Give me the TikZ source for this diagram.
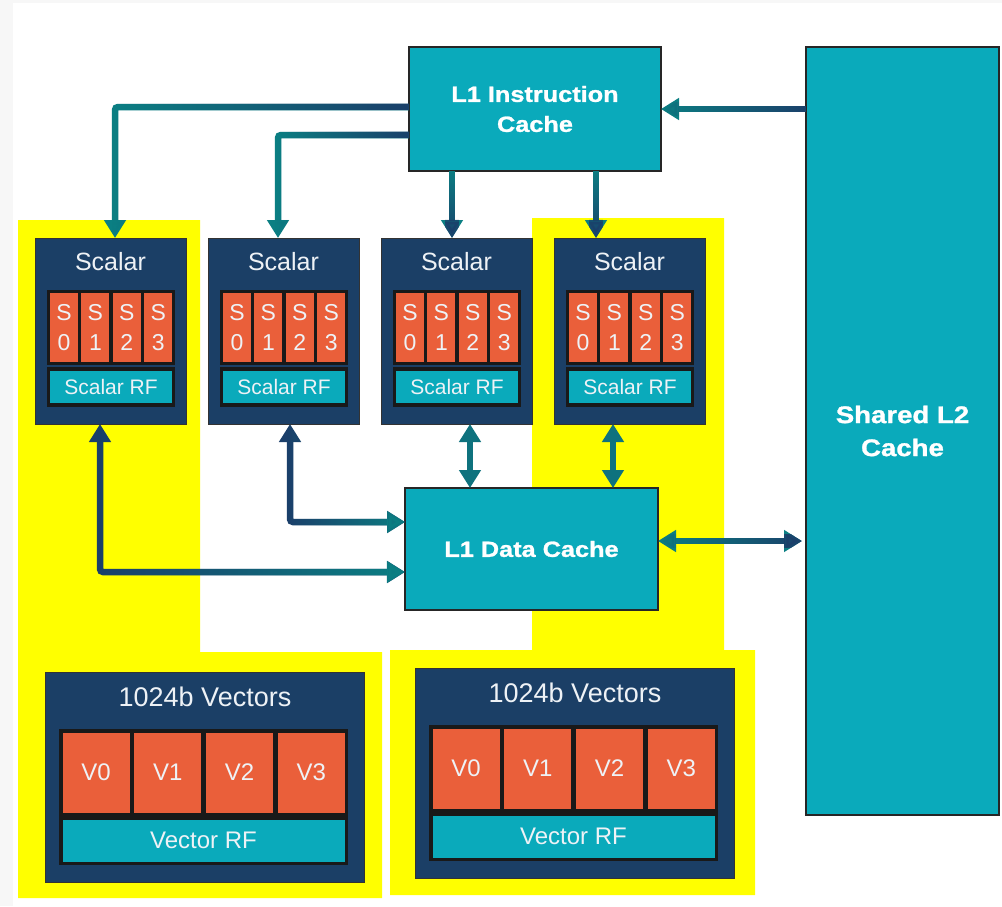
\documentclass[tikz,border=0pt]{standalone}
\usepackage{fontspec}
\setmainfont{Liberation Sans}
\newfontfamily\wideb{Liberation Sans}[FakeStretch=1.15,FakeBold=1.2]
\usetikzlibrary{arrows.meta,calc,fadings}
\definecolor{tealc}{HTML}{0AAABB}
\definecolor{navy}{HTML}{1B3F66}
\definecolor{orng}{HTML}{EA5F3A}
\definecolor{yel}{HTML}{FFFF00}
\definecolor{arrteal}{HTML}{0B7F83}
\definecolor{arrnavy}{HTML}{1B3F6A}
\definecolor{bggray}{HTML}{F7F7F7}
\definecolor{txtw}{HTML}{EEF2F6}
\begin{document}
\begin{tikzpicture}[x=1pt,y=-1pt,
  box/.style={anchor=north west,inner sep=0pt,outer sep=0pt},
  cache/.style={box,fill=tealc,draw=black!85,line width=1.5pt,text=white,align=center},
  unit/.style={box,fill=navy,draw=black!80,line width=1pt},
  cellgrp/.style={box,fill=black!90},
  cell/.style={box,fill=orng,text=txtw,align=center},
  rfbox/.style={box,fill=tealc,draw=black!90,line width=3.5pt,text=txtw},
  lbl/.style={text=txtw,inner sep=0pt},
  arr/.style={line width=6.5pt,-{Triangle[width=21pt,length=18pt]}},
  dbl/.style={line width=6.5pt,{Triangle[width=21pt,length=18pt]}-{Triangle[width=21pt,length=18pt]}},
  tl/.style={draw=arrteal},
  nv/.style={draw=arrnavy},
]
\useasboundingbox (0,0) rectangle (1002,906);
\fill[bggray] (0,0) rectangle (1002,906);
\fill[white] (13,3) rectangle (1002,906);

% yellow highlight regions
\fill[yel] (18,220) -- (200,220) -- (200,652) -- (382,652) -- (382,898) -- (18,898) -- cycle;
\fill[yel] (532,218) -- (724,218) -- (724,650) -- (755,650) -- (755,895) -- (390,895) -- (390,650) -- (532,650) -- cycle;

% caches
\node[cache,minimum width=252pt,minimum height=124pt,font=\wideb\bfseries\fontsize{22}{30}\selectfont] (l1i) at (409,47) {L1 Instruction\\Cache};
\node[cache,minimum width=193pt,minimum height=768pt,font=\wideb\bfseries\fontsize{24}{33}\selectfont] (l2) at (806,47) {Shared L2\\Cache};
\node[cache,minimum width=253pt,minimum height=122pt,font=\wideb\bfseries\fontsize{22}{30}\selectfont] (l1d) at (405,488) {L1 Data Cache};

% scalar units
\foreach \i/\x in {1/35,2/208,3/381,4/554} {
  \node[unit,minimum width=151pt,minimum height=186pt] (sc\i) at (\x,238) {};
  \node[lbl,font=\fontsize{25}{25}\selectfont] (sct\i) at (\x+75.5,262) {Scalar};
  \node[cellgrp,minimum width=128pt,minimum height=75pt] (scg\i) at (\x+12,290) {};
  \foreach \k in {0,...,3} {
    \node[cell,minimum width=28pt,minimum height=69pt,font=\fontsize{23}{30}\selectfont] (sc\i-c\k) at (\x+15+\k*31.4,293) {S\\\k};
  }
  \node[rfbox,minimum width=125pt,minimum height=36pt,font=\fontsize{21}{21}\selectfont] (scrf\i) at (\x+13.5,369) {Scalar RF};
}

% vector units
\foreach \j/\x/\y in {1/45/672,2/415/668} {
  \node[unit,minimum width=319pt,minimum height=210pt] (vu\j) at (\x,\y) {};
  \node[lbl,font=\fontsize{27}{27}\selectfont] (vut\j) at (\x+160,\y+25) {1024b Vectors};
  \node[cellgrp,minimum width=289pt,minimum height=87pt] (vug\j) at (\x+14,\y+57) {};
  \foreach \k in {0,...,3} {
    \node[cell,minimum width=67pt,minimum height=80pt,font=\fontsize{24}{24}\selectfont] (vu\j-c\k) at (\x+17.5+\k*71.75,\y+60.5) {V\k};
  }
  \node[rfbox,minimum width=285.5pt,minimum height=45.5pt,font=\fontsize{24}{24}\selectfont] (vurf\j) at (\x+15.75,\y+145.75) {Vector RF};
}

% instruction fetch connectors (teal base, navy toward the source)
\draw[arr,tl] (l2.west |- l1i.east) -- (l1i.east);
\draw[arr,nv,path fading=west] (l2.west |- l1i.east) -- (l1i.east);
\draw[arr,tl,rounded corners=3pt] ([yshift=2pt]l1i.west) -| ([xshift=4.5pt]sc1.north);
\draw[arr,nv,path fading=west,rounded corners=3pt] ([yshift=2pt]l1i.west) -| ([xshift=4.5pt]sc1.north);
\draw[arr,tl,rounded corners=3pt] ([yshift=-26pt]l1i.west) -| ([xshift=-5.5pt]sc2.north);
\draw[arr,nv,path fading=west,rounded corners=3pt] ([yshift=-26pt]l1i.west) -| ([xshift=-5.5pt]sc2.north);
\draw[arr,tl] ([xshift=-4.5pt]sc3.north |- l1i.south) -- ([xshift=-4.5pt]sc3.north);
\draw[arr,nv,path fading=north] ([xshift=-4.5pt]sc3.north |- l1i.south) -- ([xshift=-4.5pt]sc3.north);
\draw[arr,tl] ([xshift=-33.5pt]sc4.north |- l1i.south) -- ([xshift=-33.5pt]sc4.north);
\draw[arr,nv,path fading=north] ([xshift=-33.5pt]sc4.north |- l1i.south) -- ([xshift=-33.5pt]sc4.north);

% data connectors
\draw[dbl,nv,rounded corners=3pt] ([xshift=-10.5pt]sc1.south) |- ([yshift=-23pt]l1d.west);
\draw[dbl,tl,path fading=west,rounded corners=3pt] ([xshift=-10.5pt]sc1.south) |- ([yshift=-23pt]l1d.west);
\draw[dbl,nv,rounded corners=3pt] ([xshift=6.5pt]sc2.south) |- ([yshift=27pt]l1d.west);
\draw[dbl,tl,path fading=west,rounded corners=3pt] ([xshift=6.5pt]sc2.south) |- ([yshift=27pt]l1d.west);
\draw[dbl,draw=arrteal!80!arrnavy] ([xshift=13.5pt]sc3.south) -- ([xshift=13.5pt]sc3.south |- l1d.north);
\draw[dbl,draw=arrteal!80!arrnavy] ([xshift=-16.5pt]sc4.south) -- ([xshift=-16.5pt]sc4.south |- l1d.north);
\draw[dbl,tl,shorten >=4pt] ([yshift=8pt]l1d.east) -- ([yshift=8pt]l1d.east -| l2.west);
\draw[dbl,nv,path fading=west,shorten >=4pt] ([yshift=8pt]l1d.east) -- ([yshift=8pt]l1d.east -| l2.west);
\end{tikzpicture}
\end{document}
